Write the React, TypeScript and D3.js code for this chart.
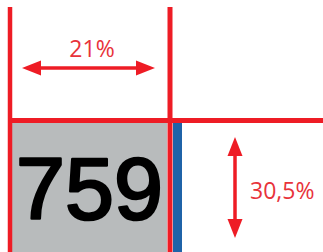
import React from "react";
import * as d3 from "d3";

const valueLabel = ["759"];
const widthLabel = ["21%"];
const heightLabel = ["30,5%"];
// cells of the grid in domain units (columns / rows)
const columns = [0, 1, 2];
const rows = [0, 1, 2];

const W = 323;
const H = 252;
const RED = "#ee1c25";
const GRAY = "#b8bbbc";
const BLUE = "#1f63a8";

export default function App() {
  const x = d3.scaleOrdinal<number, number>().domain(columns).range([10, 170, 323]);
  const y = d3.scaleOrdinal<number, number>().domain(rows).range([7, 120.5, 252]);

  const arrowH = { x1: 22, x2: 155, y: 68 };
  const arrowV = { x: 235, y1: 137, y2: 238 };
  const head = 19;
  const hw = 7.5;

  return (
    <svg
      width={W}
      height={H}
      style={{ position: "absolute", left: 0, top: 0, background: "#fff" }}
    >
      <rect x={x(0) + 2} y={y(1)} width={x(1) - x(0) - 5} height={y(2) - y(1)} fill={GRAY} />
      <rect x={x(1) + 3} y={y(1) + 2} width={9} height={y(2) - y(1)} fill={BLUE} />
      <line x1={x(0)} x2={x(0)} y1={y(0)} y2={y(2)} stroke={RED} strokeWidth={4.5} />
      <line x1={x(1)} x2={x(1)} y1={y(0)} y2={y(2)} stroke={RED} strokeWidth={5} />
      <line x1={x(0) - 2} x2={x(2)} y1={y(1)} y2={y(1)} stroke={RED} strokeWidth={5} />
      <line x1={arrowH.x1 + head - 2} x2={arrowH.x2 - head + 2} y1={arrowH.y} y2={arrowH.y} stroke={RED} strokeWidth={3.5} />
      <path d={`M${arrowH.x1},${arrowH.y} L${arrowH.x1 + head},${arrowH.y - hw} L${arrowH.x1 + head},${arrowH.y + hw} Z`} fill={RED} />
      <path d={`M${arrowH.x2},${arrowH.y} L${arrowH.x2 - head},${arrowH.y - hw} L${arrowH.x2 - head},${arrowH.y + hw} Z`} fill={RED} />
      <text x={92} y={57} textAnchor="middle" fill="#e8333a" fontFamily="'Open Sans', sans-serif" fontSize={23}>
        {widthLabel[0]}
      </text>
      <line x1={arrowV.x} x2={arrowV.x} y1={arrowV.y1 + head - 2} y2={arrowV.y2 - head + 2} stroke={RED} strokeWidth={3.5} />
      <path d={`M${arrowV.x},${arrowV.y1} L${arrowV.x - hw},${arrowV.y1 + head} L${arrowV.x + hw},${arrowV.y1 + head} Z`} fill={RED} />
      <path d={`M${arrowV.x},${arrowV.y2} L${arrowV.x - hw},${arrowV.y2 - head} L${arrowV.x + hw},${arrowV.y2 - head} Z`} fill={RED} />
      <text x={250} y={199} textAnchor="start" fill="#e8333a" fontFamily="'Open Sans', sans-serif" fontSize={23}>
        {heightLabel[0]}
      </text>
      <text
        x={89.5}
        y={219}
        textAnchor="middle"
        fill="#000"
        stroke="#000"
        strokeWidth={2.6}
        strokeLinejoin="round"
        fontFamily="'Liberation Sans', Arial, sans-serif"
        fontSize={88}
      >
        {valueLabel[0]}
      </text>
    </svg>
  );
}
